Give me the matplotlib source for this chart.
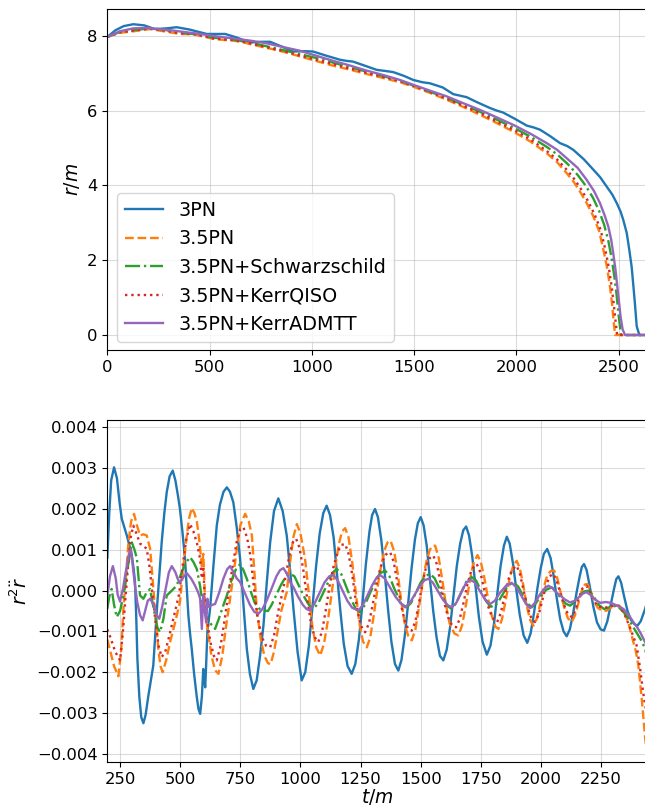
import numpy as np
import matplotlib
matplotlib.use("Agg")
import matplotlib.pyplot as plt

# ---- top panel: r/m vs t/m ----
t_3pn = [0, 40, 80, 127, 180, 233, 290, 339, 400, 486, 530, 576, 630, 698, 750, 796, 850, 908, 960, 1006,
         1070, 1138, 1170, 1202, 1260, 1317, 1360, 1398, 1450, 1496, 1540, 1578, 1640, 1692, 1725, 1757, 1810,
         1871, 1905, 1935, 1990, 2051, 2085, 2116, 2165, 2214, 2250, 2279, 2330, 2377, 2410, 2442, 2470, 2491,
         2510, 2523, 2540, 2552, 2564, 2572, 2580, 2589, 2602, 2640]
r_3pn = [7.97, 8.15, 8.26, 8.31, 8.28, 8.18, 8.2, 8.23, 8.17, 8.05, 8.05, 8.05, 7.96, 7.82, 7.84, 7.84, 7.72,
         7.58, 7.59, 7.58, 7.47, 7.36, 7.33, 7.31, 7.2, 7.09, 7.06, 7.03, 6.93, 6.82, 6.76, 6.73, 6.62, 6.44,
         6.40, 6.36, 6.22, 6.07, 6.0, 5.95, 5.79, 5.60, 5.55, 5.49, 5.32, 5.13, 5.05, 4.95, 4.70, 4.42, 4.22,
         3.97, 3.75, 3.53, 3.30, 3.08, 2.73, 2.30, 1.83, 1.35, 0.85, 0.23, 0.0, 0.0]

t_35 = [0, 60, 127, 208, 300, 355, 420, 470, 518, 570, 616, 660, 714, 760, 812, 870, 942, 1000, 1105, 1190,
        1268, 1350, 1431, 1496, 1580, 1660, 1740, 1822, 1900, 1985, 2070, 2149, 2200, 2246, 2280, 2311, 2345,
        2377, 2405, 2426, 2444, 2458, 2467, 2474, 2483, 2640]
r_35 = [7.97, 8.08, 8.12, 8.18, 8.1, 8.05, 8.04, 7.98, 7.92, 7.89, 7.87, 7.83, 7.76, 7.7, 7.64, 7.56, 7.45,
        7.36, 7.2, 7.09, 6.98, 6.87, 6.76, 6.64, 6.47, 6.29, 6.10, 5.89, 5.68, 5.44, 5.17, 4.86, 4.62, 4.33,
        4.10, 3.84, 3.52, 3.17, 2.78, 2.28, 1.80, 1.30, 0.90, 0.49, 0.0, 0.0]

t_sch = [0, 60, 127, 208, 280, 355, 420, 518, 616, 714, 812, 942, 1020, 1105, 1190, 1268, 1350, 1431, 1496,
         1580, 1660, 1740, 1822, 1900, 1985, 2070, 2149, 2200, 2250, 2300, 2340, 2375, 2405, 2430, 2450, 2466,
         2480, 2490, 2500, 2512, 2640]
r_sch = [7.97, 8.1, 8.15, 8.2, 8.16, 8.08, 8.05, 7.95, 7.9, 7.8, 7.68, 7.51, 7.41, 7.28, 7.16, 7.04, 6.92,
         6.8, 6.67, 6.5, 6.34, 6.16, 5.97, 5.77, 5.55, 5.3, 5.03, 4.83, 4.58, 4.28, 3.99, 3.67, 3.32, 2.94,
         2.52, 2.06, 1.55, 1.1, 0.55, 0.0, 0.0]

t_qiso = [0, 60, 127, 208, 300, 355, 420, 470, 518, 570, 616, 660, 714, 760, 812, 870, 942, 1000, 1105, 1190,
          1268, 1350, 1431, 1496, 1580, 1660, 1740, 1822, 1900, 1985, 2070, 2149, 2200, 2250, 2285, 2318,
          2352, 2384, 2412, 2434, 2452, 2466, 2475, 2483, 2493, 2640]
r_qiso = [7.97, 8.09, 8.14, 8.2, 8.12, 8.07, 8.05, 8.0, 7.93, 7.9, 7.89, 7.85, 7.78, 7.72, 7.65, 7.58, 7.47,
          7.39, 7.24, 7.12, 7.01, 6.9, 6.79, 6.67, 6.5, 6.32, 6.13, 5.93, 5.72, 5.49, 5.23, 4.92, 4.69, 4.40,
          4.16, 3.89, 3.57, 3.21, 2.82, 2.32, 1.82, 1.31, 0.91, 0.49, 0.0, 0.0]

t_adm = [0, 60, 127, 200, 293, 380, 453, 540, 616, 700, 779, 860, 942, 1020, 1105, 1190, 1268, 1350, 1431,
         1496, 1580, 1660, 1740, 1822, 1900, 1985, 2070, 2149, 2200, 2246, 2300, 2344, 2380, 2409, 2432, 2450,
         2464, 2474, 2485, 2494, 2503, 2510, 2520, 2532, 2640]
r_adm = [7.97, 8.12, 8.2, 8.21, 8.16, 8.1, 8.05, 7.98, 7.93, 7.87, 7.8, 7.7, 7.6, 7.47, 7.33, 7.2, 7.07,
         6.95, 6.82, 6.69, 6.53, 6.38, 6.2, 6.02, 5.83, 5.62, 5.38, 5.13, 4.95, 4.73, 4.47, 4.15, 3.85, 3.53,
         3.2, 2.9, 2.55, 2.19, 1.75, 1.30, 0.85, 0.49, 0.15, 0.0, 0.0]

# ---- bottom panel: r^2 rddot vs t/m (values in units of 1e-3) ----
tb_3pn = [197, 205, 213, 225, 237, 248, 257, 268, 278, 289, 299, 307, 312, 317, 322, 330, 338, 347, 356, 367,
          378, 388, 405, 423, 434, 444, 456, 469, 480, 490, 499, 510, 520, 527, 534, 541, 548, 558, 569, 576,
          583, 590, 596, 600, 604, 608, 613, 624, 638, 652, 665, 680, 694, 707, 721, 735, 749, 763, 777, 790,
          804, 818, 832, 846, 860, 874, 890, 908, 926, 943, 957, 971, 988, 1005, 1020, 1035, 1050, 1065, 1080,
          1095, 1109, 1123, 1138, 1152, 1166, 1180, 1196, 1213, 1228, 1243, 1258, 1272, 1287, 1298, 1310, 1322,
          1336, 1350, 1364, 1378, 1393, 1407, 1420, 1434, 1448, 1462, 1476, 1488, 1500, 1512, 1525, 1538, 1552,
          1566, 1580, 1594, 1608, 1622, 1636, 1650, 1664, 1677, 1689, 1701, 1714, 1728, 1742, 1757, 1775, 1790,
          1805, 1818, 1832, 1846, 1858, 1870, 1884, 1898, 1912, 1928, 1943, 1957, 1971, 1985, 1999, 2012, 2026,
          2040, 2053, 2066, 2080, 2094, 2107, 2120, 2134, 2148, 2161, 2170, 2179, 2190, 2203, 2218, 2233, 2248,
          2262, 2276, 2290, 2304, 2313, 2322, 2333, 2346, 2360, 2374, 2388, 2401, 2415, 2425, 2433, 2440]
yb_3pn = [0.8, 1.9, 2.7, 3.02, 2.75, 2.15, 1.76, 1.55, 1.35, 1.1, 0.86, 0.5, 0.21, -0.6, -1.67, -2.6, -3.1,
          -3.25, -3.05, -2.6, -2.2, -1.84, -0.3, 1.18, 1.9, 2.41, 2.8, 2.94, 2.7, 2.35, 2.0, 1.4, 0.78, 0.1,
          -0.61, -1.05, -1.43, -2.05, -2.61, -2.9, -3.02, -2.6, -1.92, -2.2, -2.37, -1.8, -1.01, -0.45, 0.6,
          1.59, 2.1, 2.42, 2.53, 2.42, 2.16, 1.55, 0.78, -0.35, -1.43, -2.05, -2.41, -2.2, -1.6, -0.86, 0.2,
          1.18, 1.95, 2.26, 1.95, 1.35, 0.5, -0.45, -1.5, -2.2, -2.0, -1.35, -0.4, 0.6, 1.4, 1.9, 2.08, 1.85,
          1.3, 0.4, -0.5, -1.3, -1.85, -2.04, -1.8, -1.2, -0.3, 0.65, 1.45, 1.85, 2.0, 1.8, 1.25, 0.45, -0.45,
          -1.25, -1.8, -1.96, -1.7, -1.1, -0.3, 0.55, 1.25, 1.65, 1.80, 1.6, 1.1, 0.3, -0.5, -1.15, -1.6,
          -1.71, -1.45, -0.9, -0.15, 0.6, 1.15, 1.48, 1.57, 1.35, 0.85, 0.1, -0.65, -1.25, -1.57, -1.35, -0.8,
          -0.1, 0.6, 1.1, 1.32, 1.15, 0.65, 0.0, -0.6, -1.1, -1.28, -1.05, -0.55, 0.05, 0.55, 0.9, 1.02, 0.8,
          0.35, -0.2, -0.7, -1.0, -1.12, -0.95, -0.55, -0.05, 0.35, 0.58, 0.65, 0.5, 0.1, -0.4, -0.78, -0.95,
          -0.98, -0.75, -0.35, 0.05, 0.28, 0.35, 0.2, -0.15, -0.5, -0.72, -0.82, -0.86, -0.75, -0.58, -0.45,
          -0.3]

tb_35 = [197, 210, 225, 243, 254, 264, 275, 285, 296, 308, 320, 333, 347, 361, 375, 385, 395, 409, 418, 427,
         442, 458, 478, 499, 512, 524, 536, 548, 559, 569, 578, 583, 590, 596, 600, 604, 615, 630, 645, 659,
         675, 690, 705, 721, 735, 750, 770, 785, 798, 808, 818, 835, 850, 865, 876, 890, 905, 920, 943, 955,
         970, 985, 1000, 1019, 1035, 1050, 1066, 1082, 1098, 1115, 1130, 1145, 1160, 1173, 1186, 1200, 1215,
         1230, 1245, 1260, 1276, 1290, 1305, 1320, 1335, 1350, 1362, 1375, 1390, 1405, 1420, 1435, 1450, 1463,
         1478, 1493, 1508, 1523, 1538, 1550, 1560, 1575, 1590, 1605, 1620, 1640, 1657, 1672, 1688, 1703, 1718,
         1736, 1750, 1765, 1780, 1795, 1810, 1823, 1838, 1853, 1868, 1884, 1899, 1912, 1926, 1940, 1955, 1968,
         1982, 1996, 2010, 2025, 2040, 2055, 2068, 2082, 2096, 2112, 2128, 2142, 2156, 2170, 2183, 2193, 2206,
         2220, 2236, 2255, 2274, 2290, 2308, 2326, 2345, 2364, 2384, 2395, 2405, 2419, 2433, 2440]
yb_35 = [-1.2, -1.5, -1.85, -2.10, -1.5, -0.45, 0.4, 1.18, 1.7, 1.88, 1.6, 1.35, 1.38, 1.35, 1.02, 0.3, -0.45,
         -1.43, -1.85, -2.0, -1.7, -1.26, -0.8, -0.28, 0.5, 1.18, 1.75, 2.02, 1.9, 1.7, 1.3, 1.02, 0.6, 0.9,
         0.3, -0.45, -1.0, -1.6, -1.95, -2.04, -1.6, -0.9, -0.3, 0.37, 1.0, 1.6, 1.88, 1.7, 1.35, 0.5, -0.45,
         -1.2, -1.6, -1.78, -1.80, -1.5, -1.0, -0.5, -0.04, 0.6, 1.3, 1.63, 1.4, 0.78, -0.1, -0.9, -1.4, -1.59,
         -1.3, -0.7, -0.05, 0.6, 1.15, 1.45, 1.53, 1.3, 0.7, -0.05, -0.8, -1.25, -1.39, -1.15, -0.6, 0.05, 0.6,
         1.0, 1.18, 1.22, 0.95, 0.4, -0.3, -0.85, -1.15, -1.22, -0.95, -0.4, 0.2, 0.7, 1.0, 1.1, 1.10, 0.8,
         0.25, -0.35, -0.8, -1.05, -1.10, -0.85, -0.35, 0.2, 0.65, 0.87, 0.7, 0.3, -0.2, -0.6, -0.88, -0.94,
         -0.7, -0.25, 0.25, 0.6, 0.73, 0.55, 0.15, -0.35, -0.72, -0.86, -0.7, -0.35, 0.05, 0.35, 0.48, 0.49,
         0.3, -0.05, -0.4, -0.68, -0.77, -0.6, -0.3, 0.0, 0.15, 0.16, 0.0, -0.25, -0.42, -0.5, -0.49, -0.42,
         -0.36, -0.37, -0.5, -0.8, -1.26, -1.5, -1.84, -2.65, -3.6, -4.0]

tb_sch = [197, 205, 215, 225, 236, 250, 264, 280, 299, 310, 320, 333, 347, 360, 375, 385, 395, 405, 416, 430,
          444, 465, 485, 500, 520, 541, 555, 569, 583, 596, 610, 625, 645, 660, 680, 694, 710, 730, 749, 763,
          777, 795, 810, 830, 846, 865, 880, 900, 920, 940, 957, 975, 995, 1015, 1035, 1054, 1075, 1095, 1115,
          1135, 1151, 1170, 1190, 1210, 1230, 1248, 1268, 1290, 1310, 1330, 1352, 1370, 1390, 1410, 1425, 1442,
          1460, 1480, 1500, 1520, 1539, 1558, 1578, 1595, 1612, 1629, 1648, 1668, 1690, 1712, 1730, 1750, 1768,
          1785, 1802, 1820, 1840, 1862, 1885, 1905, 1925, 1942, 1961, 1980, 2000, 2022, 2045, 2065, 2085, 2103,
          2121, 2140, 2160, 2180, 2200, 2220, 2240, 2262, 2290, 2315, 2340, 2360, 2384, 2405, 2420, 2433, 2440]
yb_sch = [-0.45, -0.15, 0.04, -0.35, -0.65, -0.5, -0.12, 0.5, 1.18, 1.0, 0.78, -0.12, -0.2, -0.05, 0.04,
          -0.3, -0.61, -0.9, -1.02, -0.7, -0.12, 0.0, 0.12, 0.35, 0.65, 0.82, 0.7, 0.53, 0.1, -0.45, -0.65,
          -0.8, -0.94, -0.7, -0.35, -0.12, 0.2, 0.5, 0.65, 0.5, 0.29, -0.05, -0.3, -0.45, -0.49, -0.5, -0.35,
          -0.1, 0.15, 0.35, 0.41, 0.35, 0.1, -0.15, -0.35, -0.45, -0.3, -0.05, 0.2, 0.45, 0.53, 0.4, 0.1, -0.2,
          -0.45, -0.53, -0.35, -0.05, 0.2, 0.42, 0.49, 0.35, 0.05, -0.2, -0.35, -0.41, -0.3, -0.05, 0.2, 0.36,
          0.41, 0.3, 0.05, -0.2, -0.38, -0.45, -0.3, -0.05, 0.22, 0.33, 0.25, 0.0, -0.22, -0.36, -0.41, -0.3,
          -0.1, 0.12, 0.20, 0.1, -0.12, -0.3, -0.41, -0.3, -0.12, 0.02, 0.08, -0.05, -0.2, -0.32, -0.37, -0.28,
          -0.12, -0.02, 0.0, -0.15, -0.35, -0.45, -0.4, -0.37, -0.5, -0.65, -0.9, -1.1, -1.25, -1.43, -1.6]

tb_qiso = [197, 210, 230, 250, 262, 272, 283, 294, 305, 318, 333, 347, 361, 372, 385, 398, 410, 423, 438, 455,
           475, 495, 510, 525, 541, 555, 570, 582, 590, 596, 602, 612, 625, 640, 652, 668, 685, 702, 718, 735,
           750, 763, 778, 792, 806, 820, 840, 857, 874, 890, 908, 925, 940, 955, 970, 982, 996, 1012, 1028,
           1045, 1060, 1074, 1090, 1106, 1122, 1138, 1155, 1170, 1186, 1200, 1215, 1230, 1246, 1258, 1269, 1285,
           1300, 1316, 1332, 1350, 1362, 1373, 1388, 1403, 1418, 1434, 1449, 1463, 1478, 1493, 1508, 1523, 1538,
           1552, 1567, 1582, 1598, 1614, 1630, 1647, 1662, 1678, 1694, 1710, 1725, 1733, 1748, 1763, 1778, 1795,
           1808, 1818, 1833, 1848, 1863, 1880, 1899, 1913, 1928, 1944, 1960, 1975, 1990, 2005, 2020, 2036, 2051,
           2065, 2080, 2096, 2112, 2128, 2142, 2157, 2172, 2189, 2203, 2218, 2235, 2262, 2290, 2322, 2345, 2370,
           2398, 2412, 2425, 2433, 2440]
yb_qiso = [-0.95, -1.15, -1.5, -1.71, -1.0, -0.2, 0.6, 1.3, 1.59, 1.4, 1.15, 1.1, 1.02, 0.6, -0.1, -0.8,
           -1.35, -1.63, -1.5, -1.1, -0.6, -0.1, 0.6, 1.25, 1.63, 1.45, 1.15, 0.8, 0.3, 0.6, -0.2, -0.7, -1.25,
           -1.6, -1.71, -1.35, -0.7, 0.0, 0.6, 1.2, 1.5, 1.55, 1.3, 0.85, 0.1, -0.6, -1.15, -1.35, -1.39, -1.1,
           -0.5, -0.05, 0.4, 0.9, 1.2, 1.27, 1.05, 0.5, -0.2, -0.85, -1.15, -1.26, -1.0, -0.45, 0.15, 0.6, 0.95,
           1.12, 1.14, 0.9, 0.4, -0.25, -0.75, -0.95, -1.02, -0.8, -0.35, 0.15, 0.55, 0.85, 0.92, 0.94, 0.7, 0.2,
           -0.35, -0.75, -0.95, -0.98, -0.75, -0.3, 0.2, 0.6, 0.8, 0.86, 0.65, 0.2, -0.3, -0.65, -0.85, -0.90,
           -0.7, -0.3, 0.15, 0.48, 0.62, 0.65, 0.45, 0.05, -0.35, -0.62, -0.74, -0.77, -0.55, -0.15, 0.25, 0.52,
           0.61, 0.4, 0.0, -0.4, -0.68, -0.77, -0.6, -0.25, 0.1, 0.35, 0.41, 0.25, -0.05, -0.35, -0.58, -0.65,
           -0.5, -0.2, 0.05, 0.12, -0.02, -0.22, -0.38, -0.43, -0.38, -0.37, -0.55, -0.9, -1.35, -1.9, -2.5,
           -2.8, -3.0]

tb_adm = [197, 208, 220, 232, 240, 250, 262, 278, 287, 295, 303, 312, 322, 333, 344, 356, 365, 375, 390, 402,
          413, 425, 440, 453, 465, 480, 490, 499, 512, 527, 545, 562, 575, 583, 590, 596, 602, 608, 613, 620,
          632, 645, 662, 680, 695, 707, 722, 735, 749, 768, 790, 808, 825, 842, 860, 880, 900, 915, 929, 945,
          958, 971, 990, 1010, 1025, 1040, 1060, 1080, 1100, 1120, 1137, 1155, 1175, 1195, 1215, 1241, 1260,
          1280, 1300, 1318, 1331, 1350, 1370, 1395, 1414, 1435, 1455, 1475, 1495, 1515, 1532, 1550, 1570, 1590,
          1610, 1629, 1648, 1668, 1688, 1705, 1725, 1745, 1768, 1788, 1808, 1830, 1855, 1878, 1898, 1918, 1937,
          1955, 1975, 1995, 2015, 2031, 2050, 2065, 2080, 2100, 2121, 2140, 2160, 2175, 2189, 2205, 2225, 2246,
          2270, 2290, 2302, 2320, 2343, 2365, 2384, 2400, 2415, 2433, 2440]
yb_adm = [-0.12, 0.35, 0.60, 0.3, -0.1, -0.27, 0.05, 0.61, 0.9, 1.02, 0.6, 0.12, -0.3, -0.6, -0.73, -0.45,
          -0.25, -0.20, -0.35, -0.6, -0.69, -0.4, 0.05, 0.45, 0.60, 0.45, 0.28, 0.20, 0.32, 0.43, 0.3, 0.12,
          -0.05, -0.2, -0.94, -0.1, -0.5, -0.78, -0.2, -0.4, -0.35, -0.33, -0.05, 0.3, 0.52, 0.60, 0.45, 0.3,
          0.21, -0.05, -0.35, -0.52, -0.57, -0.45, -0.24, 0.05, 0.35, 0.5, 0.55, 0.4, 0.2, 0.08, -0.15, -0.35,
          -0.45, -0.49, -0.3, -0.05, 0.2, 0.35, 0.38, 0.25, 0.0, -0.25, -0.42, -0.49, -0.35, -0.1, 0.15, 0.33,
          0.38, 0.3, 0.1, -0.15, -0.29, -0.41, -0.3, -0.1, 0.1, 0.25, 0.29, 0.2, 0.0, -0.2, -0.35, -0.41, -0.3,
          -0.05, 0.18, 0.27, 0.2, 0.0, -0.22, -0.33, -0.25, -0.05, 0.12, 0.19, 0.08, -0.12, -0.32, -0.43, -0.3,
          -0.1, 0.05, 0.12, 0.05, -0.05, -0.12, -0.22, -0.29, -0.25, -0.15, -0.07, -0.04, -0.1, -0.22, -0.30,
          -0.28, -0.3, -0.33, -0.38, -0.45, -0.6, -0.77, -0.9, -1.05, -1.26, -1.35]

labels = ["3PN", "3.5PN", "3.5PN+Schwarzschild", "3.5PN+KerrQISO", "3.5PN+KerrADMTT"]
colors = ["C0", "C1", "C2", "C3", "C4"]
styles = ["-", "--", "-.", ":", "-"]

top_data = [(t_3pn, r_3pn), (t_35, r_35), (t_sch, r_sch), (t_qiso, r_qiso), (t_adm, r_adm)]
bot_data = [(tb_3pn, yb_3pn), (tb_35, yb_35), (tb_sch, yb_sch), (tb_qiso, yb_qiso), (tb_adm, yb_adm)]

fig = plt.figure(figsize=(6.45, 8.06), dpi=100)
ax1 = fig.add_axes([0.1664, 0.5658, 0.836, 0.4227])
ax2 = fig.add_axes([0.1664, 0.0546, 0.836, 0.4243])

for (t, r), lab, c, ls in zip(top_data, labels, colors, styles):
    ax1.plot(t, r, color=c, linestyle=ls, linewidth=1.7, label=lab)
for (t, y), c, ls in zip(bot_data, colors, styles):
    ax2.plot(t, np.array(y) * 1e-3, color=c, linestyle=ls, linewidth=1.7)

ax1.set_xlim(0, 2637)
ax1.set_ylim(-0.4, 8.71)
ax1.set_xticks([0, 500, 1000, 1500, 2000, 2500])
ax1.set_yticks([0, 2, 4, 6, 8])
ax1.set_ylabel(r"$r/m$", fontsize=13.5)
ax1.legend(loc="lower left", bbox_to_anchor=(0.0186, 0.0244), borderaxespad=0, fontsize=13.8)

ax2.set_xlim(197, 2439)
ax2.set_ylim(-0.0042, 0.00418)
ax2.set_xticks([250, 500, 750, 1000, 1250, 1500, 1750, 2000, 2250])
ax2.set_yticks(np.arange(-0.004, 0.0041, 0.001))
ax2.set_xlabel(r"$t/m$", fontsize=13.5, labelpad=0)
ax2.set_ylabel(r"$r^2\ddot{r}$", fontsize=13.5)

for ax in (ax1, ax2):
    ax.grid(True, color="#b0b0b0", alpha=0.45)
    ax.tick_params(labelsize=11.8)

plt.savefig("out.png", dpi=100)
